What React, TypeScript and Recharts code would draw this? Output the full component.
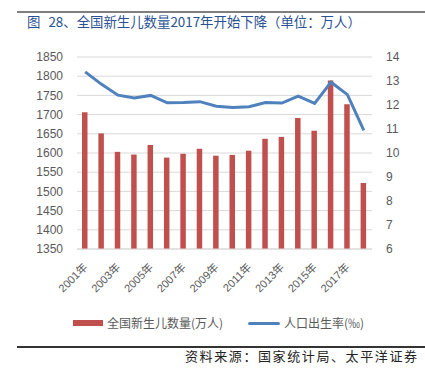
import React from "react";
import {
  ComposedChart,
  Bar,
  Line,
  XAxis,
  YAxis,
  CartesianGrid,
} from "recharts";

const years = [
  "2001年", "2002年", "2003年", "2004年", "2005年", "2006年", "2007年", "2008年", "2009年",
  "2010年", "2011年", "2012年", "2013年", "2014年", "2015年", "2016年", "2017年", "2018年",
];
const births = [
  1706, 1651, 1603, 1596, 1621, 1588, 1598, 1611, 1593,
  1595, 1606, 1637, 1642, 1691, 1658, 1789, 1727, 1522,
];
const birthRate = [
  13.38, 12.86, 12.41, 12.29, 12.4, 12.09, 12.1, 12.14, 11.95,
  11.9, 11.93, 12.1, 12.08, 12.37, 12.07, 12.95, 12.43, 10.94,
];
const leftTicks = [1350, 1400, 1450, 1500, 1550, 1600, 1650, 1700, 1750, 1800, 1850];
const rightTicks = [6, 7, 8, 9, 10, 11, 12, 13, 14];

const title = "图 28、全国新生儿数量2017年开始下降（单位：万人）";
const barName = "全国新生儿数量(万人)";
const lineName = "人口出生率(‰)";
const source = "资料来源：国家统计局、太平洋证券";

const data = years.map((y, i) => ({ year: y, births: births[i], rate: birthRate[i] }));

const BAR_COLOR = "#C0504D";
const LINE_COLOR = "#4F81BD";
const TEXT_GRAY = "#595959";
const CJK = '"Noto Sans CJK SC", "Liberation Sans", sans-serif';

const XTick = (props: any) => {
  const { x, y, payload } = props;
  const ax = x + 3;
  const ay = y + 19;
  return (
    <text
      x={ax}
      y={ay}
      transform={`rotate(-45, ${ax}, ${ay})`}
      textAnchor="end"
      fontSize={11}
      fill={TEXT_GRAY}
      fontFamily='"Liberation Sans", "Noto Sans CJK SC", sans-serif'
    >
      {payload.value}
    </text>
  );
};

export default function App() {
  return (
    <div
      style={{
        position: "absolute",
        left: 0,
        top: 0,
        width: 425,
        height: 375,
        background: "#fff",
        overflow: "hidden",
      }}
    >
      <div
        style={{
          position: "absolute",
          left: 17,
          right: 0,
          top: 11,
          height: 2,
          background: "#7f7f7f",
        }}
      />
      <div
        style={{
          position: "absolute",
          left: 27,
          top: 13,
          fontSize: 13.4,
          lineHeight: "16px",
          wordSpacing: 5,
          color: "#2A5192",
          fontFamily: CJK,
          whiteSpace: "pre",
        }}
      >
        {title}
      </div>
      <div style={{ position: "absolute", left: 0, top: 0 }}>
        <ComposedChart
          width={425}
          height={375}
          data={data}
          margin={{ top: 57, right: 0, left: 0, bottom: 66 }}
          barCategoryGap={0}
        >
          <CartesianGrid
            yAxisId="left"
            vertical={false}
            stroke="#D9D9D9"
            strokeWidth={1}
          />
          <XAxis
            dataKey="year"
            interval={1}
            tickLine={false}
            tickSize={0}
            tickMargin={0}
            axisLine={{ stroke: "#D9D9D9" }}
            height={60}
            tick={<XTick />}
          />
          <YAxis
            yAxisId="left"
            orientation="left"
            domain={[1350, 1850]}
            ticks={leftTicks}
            width={77}
            axisLine={false}
            tickLine={false}
            tickMargin={8}
            tick={{ fontSize: 12, fill: TEXT_GRAY, fontFamily: '"Liberation Sans", sans-serif' }}
            interval={0}
          />
          <YAxis
            yAxisId="right"
            orientation="right"
            domain={[6, 14]}
            ticks={rightTicks}
            width={53}
            axisLine={false}
            tickLine={false}
            tickMargin={8}
            tick={{ fontSize: 12, fill: TEXT_GRAY, fontFamily: '"Liberation Sans", sans-serif' }}
            interval={0}
          />
          <Bar
            yAxisId="left"
            dataKey="births"
            fill={BAR_COLOR}
            barSize={5.5}
            isAnimationActive={false}
          />
          <Line
            yAxisId="right"
            dataKey="rate"
            stroke={LINE_COLOR}
            strokeWidth={3}
            dot={false}
            type="linear"
            isAnimationActive={false}
          />
        </ComposedChart>
      </div>
      <div
        style={{
          position: "absolute",
          left: 73,
          top: 320,
          width: 30,
          height: 6,
          background: BAR_COLOR,
        }}
      />
      <div
        style={{
          position: "absolute",
          left: 107,
          top: 315,
          fontSize: 12,
          lineHeight: "16px",
          color: TEXT_GRAY,
          fontFamily: CJK,
          whiteSpace: "nowrap",
        }}
      >
        {barName}
      </div>
      <div
        style={{
          position: "absolute",
          left: 248,
          top: 321.5,
          width: 32,
          height: 3,
          borderRadius: 1.5,
          background: LINE_COLOR,
        }}
      />
      <div
        style={{
          position: "absolute",
          left: 284,
          top: 315,
          fontSize: 12,
          lineHeight: "16px",
          color: TEXT_GRAY,
          fontFamily: CJK,
          whiteSpace: "nowrap",
        }}
      >
        {lineName}
      </div>
      <div
        style={{
          position: "absolute",
          left: 17,
          right: 0,
          top: 346,
          height: 1.5,
          background: "#333",
        }}
      />
      <div
        style={{
          position: "absolute",
          left: 185,
          top: 348,
          fontSize: 13,
          lineHeight: "16px",
          letterSpacing: 1.6,
          color: "#222",
          fontFamily: CJK,
          whiteSpace: "nowrap",
        }}
      >
        {source}
      </div>
    </div>
  );
}
